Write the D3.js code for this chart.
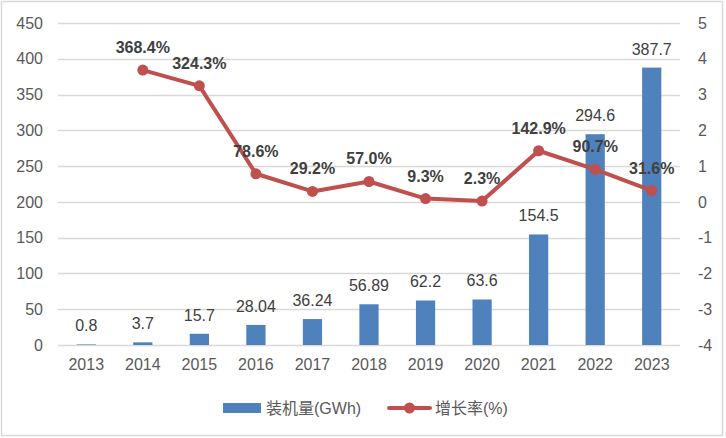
<!DOCTYPE html>
<html>
<head>
<meta charset="utf-8">
<script src="https://cdn.jsdelivr.net/npm/d3@7"></script>
<style>
  body { margin: 0; background: #fff; }
  svg text { font-family: "Liberation Sans", Arial, "Noto Sans CJK SC", sans-serif; }
</style>
</head>
<body>
<div id="chart"></div>
<script>
//chart data
var years = ["2013", "2014", "2015", "2016", "2017", "2018", "2019", "2020", "2021", "2022", "2023"];
var capacity = [0.8, 3.7, 15.7, 28.04, 36.24, 56.89, 62.2, 63.6, 154.5, 294.6, 387.7];
var capacityLabels = ["0.8", "3.7", "15.7", "28.04", "36.24", "56.89", "62.2", "63.6", "154.5", "294.6", "387.7"];
var growth = [null, 368.4, 324.3, 78.6, 29.2, 57.0, 9.3, 2.3, 142.9, 90.7, 31.6];
var growthLabels = ["", "368.4%", "324.3%", "78.6%", "29.2%", "57.0%", "9.3%", "2.3%", "142.9%", "90.7%", "31.6%"];
var leftTicks = [0, 50, 100, 150, 200, 250, 300, 350, 400, 450];
var rightTicks = [-4, -3, -2, -1, 0, 1, 2, 3, 4, 5];

function init() {
  var w = 726;
  var h = 438;
  var left = 58, right = 680, top = 23, bottom = 345;
  var barColor = "#4f81bd";
  var lineColor = "#c0504d";
  var textColor = "#595959";

  var svg = d3.select("#chart").append("svg").attr("width", w).attr("height", h);

  //outer frame
  svg.append("rect")
    .attr("x", 1.5).attr("y", 1.5)
    .attr("width", 721).attr("height", 434)
    .attr("fill", "#fff").attr("stroke", "#d9d9d9").attr("stroke-width", 1.5);

  var xScale = d3.scaleBand().domain(years).range([left, right]).paddingInner(0.66).paddingOuter(0.33);
  var yScale = d3.scaleLinear().domain([0, 450]).range([bottom, top]);
  var y2Scale = d3.scaleLinear().domain([-4, 5]).range([bottom, top]);

  //grid lines
  svg.append("g").selectAll("line").data(leftTicks).enter().append("line")
    .attr("x1", left).attr("x2", right)
    .attr("y1", function (d) { return Math.round(yScale(d)) + 0.5; })
    .attr("y2", function (d) { return Math.round(yScale(d)) + 0.5; })
    .attr("stroke", "#d9d9d9").attr("stroke-width", 1.5);

  //left axis
  var yAxis = d3.axisLeft(yScale).tickValues(leftTicks).tickSize(0).tickPadding(15);
  var gy = svg.append("g").attr("transform", "translate(" + left + ",0)").call(yAxis);
  gy.select(".domain").remove();
  gy.selectAll("text").style("font-size", "16px").attr("fill", textColor);

  //right axis (plain hyphen for negatives, like the original)
  var y2Axis = d3.axisRight(y2Scale).tickValues(rightTicks).tickSize(0).tickPadding(18)
    .tickFormat(function (d) { return String(d); });
  var gy2 = svg.append("g").attr("transform", "translate(" + right + ",0)").call(y2Axis);
  gy2.select(".domain").remove();
  gy2.selectAll("text").style("font-size", "16px").attr("fill", textColor);

  //x axis
  var xAxis = d3.axisBottom(xScale).tickSize(0).tickPadding(14);
  var gx = svg.append("g").attr("transform", "translate(0," + bottom + ")").call(xAxis);
  gx.select(".domain").remove();
  gx.selectAll("text").style("font-size", "16px").attr("fill", textColor);

  //bars
  svg.append("g").selectAll("rect").data(capacity).enter().append("rect")
    .attr("x", function (d, i) { return xScale(years[i]); })
    .attr("y", function (d) { return yScale(d); })
    .attr("width", xScale.bandwidth())
    .attr("height", function (d) { return bottom - yScale(d); })
    .attr("fill", barColor);

  //bar labels
  svg.append("g").selectAll("text").data(capacity).enter().append("text")
    .attr("x", function (d, i) { return xScale(years[i]) + xScale.bandwidth() / 2; })
    .attr("y", function (d) { return yScale(d) - 13; })
    .attr("text-anchor", "middle")
    .style("font-size", "16px")
    .attr("fill", "#404040")
    .text(function (d, i) { return capacityLabels[i]; });

  //growth line (percent plotted as ratio on right axis)
  var points = growth.map(function (d, i) { return { year: years[i], v: d, label: growthLabels[i] }; })
    .filter(function (d) { return d.v !== null; });
  var cx = function (d) { return xScale(d.year) + xScale.bandwidth() / 2; };
  var cy = function (d) { return y2Scale(d.v / 100); };

  var line = d3.line().x(cx).y(cy);
  svg.append("path").datum(points)
    .attr("d", line)
    .attr("fill", "none")
    .attr("stroke", lineColor)
    .attr("stroke-width", 4)
    .attr("stroke-linejoin", "round");

  svg.append("g").selectAll("circle").data(points).enter().append("circle")
    .attr("cx", cx).attr("cy", cy).attr("r", 5.5)
    .attr("fill", lineColor);

  svg.append("g").selectAll("text").data(points).enter().append("text")
    .attr("x", cx)
    .attr("y", function (d) { return cy(d) - 17; })
    .attr("text-anchor", "middle")
    .style("font-size", "16px")
    .style("font-weight", "bold")
    .attr("fill", "#404040")
    .text(function (d) { return d.label; });

  //legend
  var legend = svg.append("g").attr("transform", "translate(0,408)");
  legend.append("rect").attr("x", 223).attr("y", -5).attr("width", 38).attr("height", 10).attr("fill", barColor);
  legend.append("text").attr("x", 266).attr("y", 0).attr("dy", "0.35em")
    .style("font-size", "16px").attr("fill", textColor).text("装机量(GWh)");
  legend.append("line").attr("x1", 389).attr("x2", 430).attr("y1", 0).attr("y2", 0)
    .attr("stroke", lineColor).attr("stroke-width", 4).attr("stroke-linecap", "round");
  legend.append("circle").attr("cx", 409.5).attr("cy", 0).attr("r", 5.5).attr("fill", lineColor);
  legend.append("text").attr("x", 435).attr("y", 0).attr("dy", "0.35em")
    .style("font-size", "16px").attr("fill", textColor).text("增长率(%)");
}

window.onload = init;
</script>
</body>
</html>
